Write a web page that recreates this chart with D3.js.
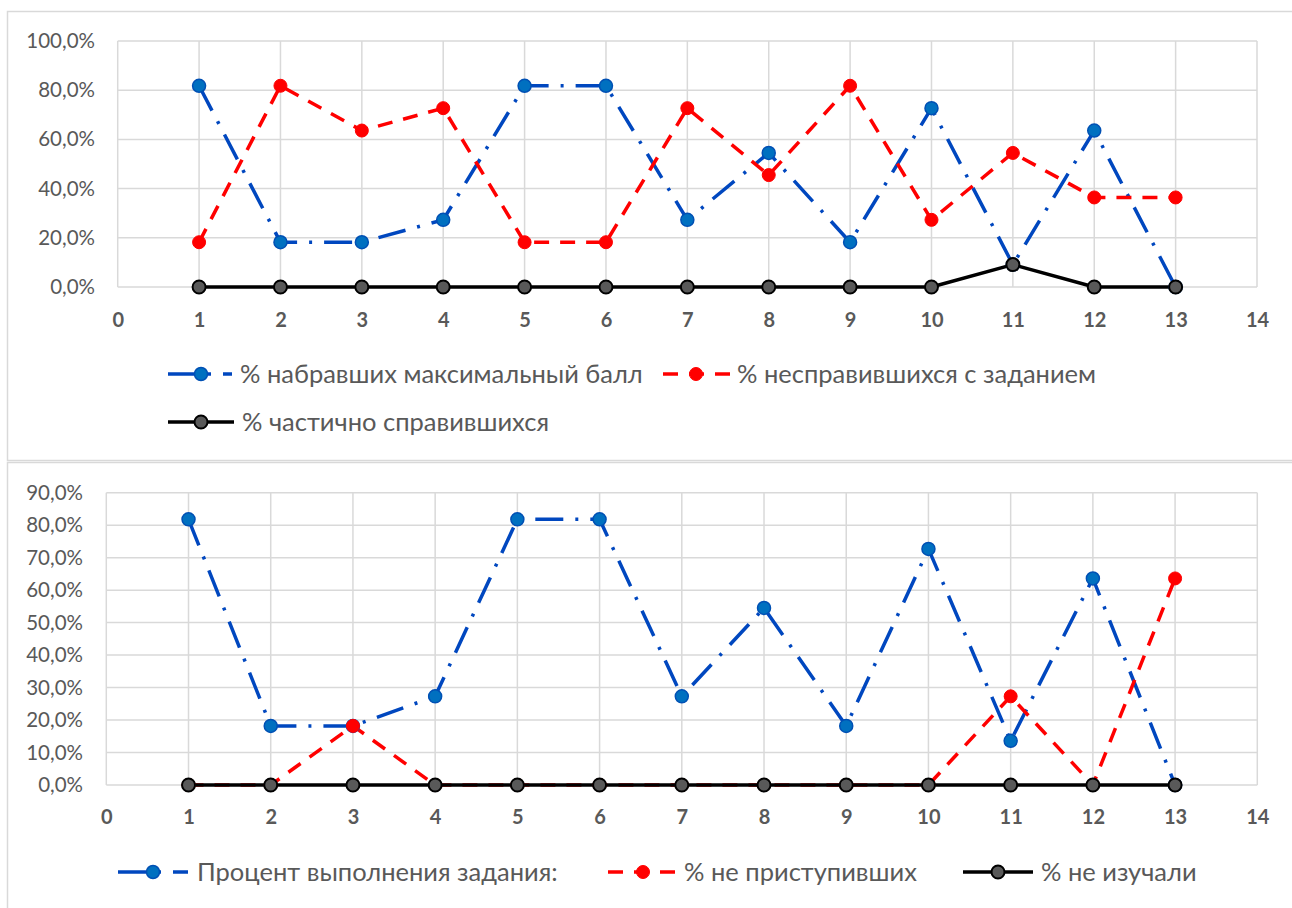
<!DOCTYPE html>
<html><head><meta charset="utf-8">
<script src="https://cdn.jsdelivr.net/npm/d3@7"></script>
<style>
html,body{margin:0;padding:0;background:#fff;}
svg{display:block;font-family:Lato,"Open Sans",sans-serif;}
</style></head>
<body>
<svg id="c" width="1292" height="908"></svg>
<script>
// ---------- DATA ----------
const xTickValues = [0,1,2,3,4,5,6,7,8,9,10,11,12,13,14];
const tasks = [1,2,3,4,5,6,7,8,9,10,11,12,13];

// Top chart
const topYTicks = [0,0.2,0.4,0.6,0.8,1.0];
const topMaxScore   = [0.818,0.182,0.182,0.273,0.818,0.818,0.273,0.545,0.182,0.727,0.091,0.636,0.0];
const topFailed     = [0.182,0.818,0.636,0.727,0.182,0.182,0.727,0.455,0.818,0.273,0.545,0.364,0.364];
const topPartial    = [0,0,0,0,0,0,0,0,0,0,0.091,0,0];
const topLabels = ["% набравших максимальный балл","% несправившихся с заданием","% частично справившихся"];

// Bottom chart
const botYTicks = [0,0.1,0.2,0.3,0.4,0.5,0.6,0.7,0.8,0.9];
const botCompletion = [0.818,0.182,0.182,0.273,0.818,0.818,0.273,0.545,0.182,0.727,0.136,0.636,0.0];
const botNotStarted = [0,0,0.182,0,0,0,0,0,0,0,0.273,0,0.636];
const botNotStudied = [0,0,0,0,0,0,0,0,0,0,0,0,0];
const botLabels = ["Процент выполнения задания:","% не приступивших","% не изучали"];

// ---------- STYLES ----------
const styles = {
  blue:  {line:"#0047BF", dash:"28,12,3,12", fill:"#0070C0", mstroke:"#0050B4", mw:1.5},
  red:   {line:"#FF0000", dash:"15,11",      fill:"#FF0000", mstroke:"#FF0000", mw:1},
  black: {line:"#000000", dash:null,         fill:"#595959", mstroke:"#000000", mw:2}
};
const fmt = v => d3.format(".1f")(v*100).replace(".", ",") + "%";

const svg = d3.select("#c");

// frames
svg.append("rect").attr("x",7.5).attr("y",11.5).attr("width",1300).attr("height",449)
  .attr("fill","none").attr("stroke","#D9D9D9").attr("stroke-width",1.5);
svg.append("rect").attr("x",7.5).attr("y",462.5).attr("width",1300).attr("height",460)
  .attr("fill","none").attr("stroke","#D9D9D9").attr("stroke-width",1.5);

function drawChart(cfg){
  const g = svg.append("g");
  const x = d3.scaleLinear().domain([0,14]).range([cfg.x0, cfg.x1]);
  const y = d3.scaleLinear().domain([0,cfg.yMax]).range([cfg.y0, cfg.y1]);

  // grid
  g.append("g").selectAll("line").data(cfg.yTicks).join("line")
    .attr("x1",x(0)).attr("x2",x(14)).attr("y1",d=>y(d)).attr("y2",d=>y(d))
    .attr("stroke","#D9D9D9").attr("stroke-width",1.5);
  g.append("g").selectAll("line").data(xTickValues).join("line")
    .attr("x1",d=>x(d)).attr("x2",d=>x(d)).attr("y1",y(0)).attr("y2",y(cfg.yMax))
    .attr("stroke","#D9D9D9").attr("stroke-width",1.5);

  // y axis labels
  const ya = d3.axisLeft(y).tickValues(cfg.yTicks).tickFormat(fmt).tickSize(0).tickPadding(0);
  const yg = g.append("g").attr("transform",`translate(${cfg.yLabelRight},0)`).call(ya);
  yg.select(".domain").remove();
  yg.selectAll("text").attr("fill","#595959").style("font-size","20.5px").style("font-family","Lato");

  // x axis labels
  const xa = d3.axisBottom(x).tickValues(xTickValues).tickFormat(d3.format("d")).tickSize(0).tickPadding(0);
  const xg = g.append("g").attr("transform",`translate(0,${cfg.xLabelY})`).call(xa);
  xg.select(".domain").remove();
  xg.selectAll("text").attr("fill","#595959").attr("dy","0.35em").attr("y",0)
    .style("font-size","20px").style("font-weight","bold").style("font-family","Lato");

  const line = d3.line().x((d,i)=>x(tasks[i])).y(d=>y(d));
  cfg.series.forEach(s=>{
    const st = styles[s.style];
    g.append("path").datum(s.values).attr("d",line).attr("fill","none")
      .attr("stroke",st.line).attr("stroke-width",3.5)
      .attr("stroke-dasharray",st.dash).attr("stroke-linejoin","round");
  });
  cfg.series.forEach(s=>{
    const st = styles[s.style];
    g.append("g").selectAll("circle").data(s.values).join("circle")
      .attr("cx",(d,i)=>x(tasks[i])).attr("cy",d=>y(d)).attr("r",6.5)
      .attr("fill",st.fill).attr("stroke",st.mstroke).attr("stroke-width",st.mw);
  });

  // legend
  cfg.legend.forEach(l=>{
    const st = styles[l.style];
    const lg = g.append("g");
    lg.append("line").attr("x1",l.x).attr("x2",l.x+l.w).attr("y1",l.y).attr("y2",l.y)
      .attr("stroke",st.line).attr("stroke-width",3.5).attr("stroke-dasharray",st.dash);
    lg.append("circle").attr("cx",l.x+l.m).attr("cy",l.y).attr("r",6.5)
      .attr("fill",st.fill).attr("stroke",st.mstroke).attr("stroke-width",st.mw);
    lg.append("text").attr("x",l.tx).attr("y",l.y).attr("dy","0.35em")
      .attr("fill","#595959").style("font-size","25.5px").style("font-family","Lato").text(l.text);
  });
}

drawChart({
  x0:117.7, x1:1257, y0:287, y1:41, yMax:1.0, yTicks:topYTicks,
  yLabelRight:95, xLabelY:320,
  series:[{values:topMaxScore,style:"blue"},{values:topFailed,style:"red"},{values:topPartial,style:"black"}],
  legend:[
    {style:"blue", x:168, w:64, m:33, y:374, tx:240, text:topLabels[0]},
    {style:"red", x:663, w:67, m:33, y:374, tx:737, text:topLabels[1]},
    {style:"black", x:168, w:66, m:33, y:422, tx:242, text:topLabels[2]}
  ]
});

drawChart({
  x0:106.3, x1:1257.3, y0:785, y1:492.7, yMax:0.9, yTicks:botYTicks,
  yLabelRight:83, xLabelY:817,
  series:[{values:botCompletion,style:"blue"},{values:botNotStarted,style:"red"},{values:botNotStudied,style:"black"}],
  legend:[
    {style:"blue", x:118, w:70, m:35, y:872, tx:197, text:botLabels[0]},
    {style:"red", x:608, w:70, m:35, y:872, tx:684, text:botLabels[1]},
    {style:"black", x:963, w:70, m:35, y:872, tx:1041, text:botLabels[2]}
  ]
});
</script>
</body></html>
